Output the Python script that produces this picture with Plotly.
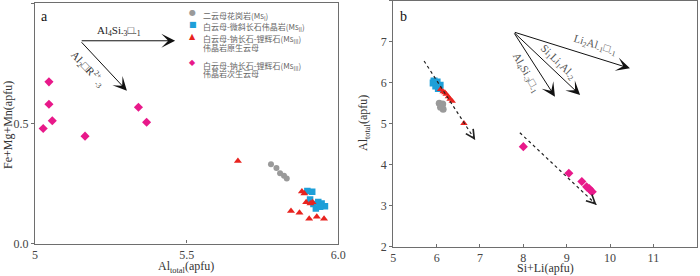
import plotly.graph_objects as go

# ---------------- Panel a data ----------------
a_ms1_x = [5.778, 5.796, 5.808, 5.821, 5.830]
a_ms1_y = [0.330, 0.314, 0.292, 0.282, 0.271]
a_ms2_x = [5.898, 5.914, 5.907, 5.934, 5.945, 5.926, 5.956, 5.918, 5.940]
a_ms2_y = [0.219, 0.215, 0.183, 0.173, 0.167, 0.146, 0.155, 0.164, 0.153]
a_ms3p_x = [5.669, 5.880, 5.888, 5.894, 5.908, 5.915, 5.844, 5.872, 5.904, 5.929, 5.953]
a_ms3p_y = [0.343, 0.217, 0.208, 0.172, 0.167, 0.172, 0.135, 0.128, 0.103, 0.111, 0.103]
a_ms3s_x = [5.046, 5.046, 5.057, 5.027, 5.165, 5.341, 5.368]
a_ms3s_y = [0.673, 0.580, 0.511, 0.479, 0.447, 0.567, 0.505]

# ---------------- Panel b data ----------------
b_ms1_x = [6.06, 6.14, 6.09, 6.15, 6.12]
b_ms1_y = [5.50, 5.48, 5.40, 5.35, 5.43]
b_ms2_x = [5.94, 6.01, 5.98, 6.08, 6.04, 5.92]
b_ms2_y = [6.04, 6.02, 5.92, 5.94, 5.86, 5.99]
b_ms3p_x = [6.09, 6.15, 6.22, 6.27, 6.31, 6.36, 6.19, 6.63]
b_ms3p_y = [5.84, 5.78, 5.72, 5.66, 5.60, 5.55, 5.76, 5.01]
b_ms3s_x = [8.00, 9.05, 9.35, 9.46, 9.52, 9.55, 9.59]
b_ms3s_y = [4.44, 3.79, 3.59, 3.46, 3.42, 3.37, 3.34]

# vectors
a_vec_origin = (5.149, 0.844)
a_vec_ends = [(5.462, 0.844), (5.303, 0.636)]
b_vec_origin = (7.77, 7.24)
b_vec_ends = [(8.73, 5.66), (9.31, 5.70), (10.46, 6.35)]
b_trend_start = [(5.71, 6.53), (7.92, 4.78)]
b_trend_end = [(6.89, 4.60), (9.69, 3.02)]

# ticks
a_xtickvals = [5, 5.5, 6.0]
a_xticktext = ["5", "5.5", "6.0"]
a_ytickvals = [0, 0.5, 1.0]
a_yticktext = ["0.0", "0.5", "1.0"]
b_xtickvals = [5, 6, 7, 8, 9, 10, 11, 12]
b_ytickvals = [2, 3, 4, 5, 6, 7, 8]

legend_names = ["二云母花岗岩(Ms<sub>I</sub>)",
                "白云母-微斜长石伟晶岩(Ms<sub>II</sub>)",
                "白云母-钠长石-锂辉石(Ms<sub>III</sub>)",
                "伟晶岩原生云母",
                "白云母-钠长石-锂辉石(Ms<sub>III</sub>)",
                "伟晶岩次生云母"]

C_GRAY = "#9a9a9a"
C_BLUE = "#1e9fd8"
C_RED = "#e8231f"
C_PINK = "#e8198a"

SERIF = "Liberation Serif"
CJK = "Noto Sans CJK SC"

fig = go.Figure()

def add(x, y, color, symbol, size, xa, ya):
    fig.add_trace(go.Scatter(x=x, y=y, mode="markers", xaxis=xa, yaxis=ya,
                             showlegend=False,
                             marker=dict(color=color, symbol=symbol, size=size,
                                         line=dict(width=0))))

add(a_ms1_x, a_ms1_y, C_GRAY, "circle", 6, "x", "y")
add(a_ms2_x, a_ms2_y, C_BLUE, "square", 6.5, "x", "y")
add(a_ms3p_x, a_ms3p_y, C_RED, "triangle-up", 7, "x", "y")
add(a_ms3s_x, a_ms3s_y, C_PINK, "diamond", 7, "x", "y")

add(b_ms1_x, b_ms1_y, C_GRAY, "circle", 7, "x2", "y2")
add(b_ms2_x, b_ms2_y, C_BLUE, "square", 7, "x2", "y2")
add(b_ms3p_x, b_ms3p_y, C_RED, "triangle-up", 6.5, "x2", "y2")
add(b_ms3s_x, b_ms3s_y, C_PINK, "diamond", 7, "x2", "y2")

W, H = 700, 276
def px(xp): return xp / W
def py(yp): return 1 - yp / H

axis_common = dict(showgrid=False, zeroline=False, showline=True, mirror=True,
                   automargin=False,
                   linecolor="#6e6e6e", linewidth=1.3,
                   tickfont=dict(family=SERIF, size=12, color="#444"),
                   tickcolor="#6e6e6e", ticklen=3, tickwidth=1)

fig.update_layout(
    width=W, height=H, margin=dict(l=0, r=0, t=0, b=0, autoexpand=False),
    paper_bgcolor="white", plot_bgcolor="white", showlegend=False,
    xaxis=dict(domain=[px(35), px(338.3)], range=[5, 6], anchor="y",
               tickvals=a_xtickvals, ticktext=a_xticktext, ticks="inside",
               **axis_common),
    yaxis=dict(domain=[py(243.5), py(3.3)], range=[0, 1.0], anchor="x",
               tickvals=a_ytickvals, ticktext=a_yticktext, ticks="outside",
               **axis_common),
    xaxis2=dict(domain=[px(393.3), px(696.7)], range=[5, 12], anchor="y2",
                tickvals=b_xtickvals, ticks="inside",
                **axis_common),
    yaxis2=dict(domain=[py(246.7), py(0.7)], range=[2, 8], anchor="x2",
                tickvals=b_ytickvals, ticks="outside",
                **axis_common),
)

ann = []
def txt(xp, yp, text, font, angle=0, xanchor="center", yanchor="middle"):
    ann.append(dict(xref="paper", yref="paper", x=px(xp), y=py(yp), text=text,
                    showarrow=False, font=font, textangle=angle,
                    xanchor=xanchor, yanchor=yanchor))

tfont = dict(family=SERIF, size=12, color="#333")
# axis titles
txt(186, 267, "Al<sub>total</sub>(apfu)", tfont)
txt(8, 125, "Fe+Mg+Mn(apfu)", tfont, angle=-90)
txt(545, 267.5, "Si+Li(apfu)", tfont)
txt(364, 123, "Al<sub>total</sub>(apfu)", tfont, angle=-90)

# panel letters
txt(45, 16, "a", dict(family=SERIF, size=14, color="#111"))
txt(403, 16, "b", dict(family=SERIF, size=14, color="#111"))

# panel a vectors
for (ex, ey) in a_vec_ends:
    ann.append(dict(xref="x", yref="y", axref="x", ayref="y",
                    x=ex, y=ey, ax=a_vec_origin[0], ay=a_vec_origin[1],
                    showarrow=True, arrowhead=3, arrowsize=2.3, arrowwidth=1,
                    arrowcolor="#111", text=""))
txt(119, 31, "Al<sub>4</sub>Si<sub>-3</sub>□<sub>-1</sub>", dict(family=SERIF, size=11, color="#222"))
txt(88, 69, "Al<sub>2</sub>□R<sup>2+</sup><sub>-3</sub>", dict(family=SERIF, size=11, color="#333"), angle=47)

# panel b vectors
for (ex, ey) in b_vec_ends:
    ann.append(dict(xref="x2", yref="y2", axref="x2", ayref="y2",
                    x=ex, y=ey, ax=b_vec_origin[0], ay=b_vec_origin[1],
                    showarrow=True, arrowhead=3, arrowsize=2.3, arrowwidth=1,
                    arrowcolor="#111", text=""))
bl = dict(family=SERIF, size=11, color="#555")
txt(595, 45, "Li<sub>2</sub>Al<sub>-1</sub>□<sub>-1</sub>", bl, angle=17)
txt(558, 62, "Si<sub>1</sub>Li<sub>1</sub>Al<sub>-2</sub>", bl, angle=44)
txt(526, 73, "Al<sub>4</sub>Si<sub>-3</sub>□<sub>-1</sub>", bl, angle=60)

# dotted trend arrows in b
shapes = []
for (s, e) in zip(b_trend_start, b_trend_end):
    shapes.append(dict(type="line", xref="x2", yref="y2", x0=s[0], y0=s[1], x1=e[0], y1=e[1],
                       line=dict(color="#222", width=1.2, dash="dot")))
    dx, dy = e[0] - s[0], e[1] - s[1]
    ann.append(dict(xref="x2", yref="y2", axref="x2", ayref="y2",
                    x=e[0], y=e[1], ax=e[0] - dx * 0.06, ay=e[1] - dy * 0.06,
                    showarrow=True, arrowhead=5, arrowsize=1.7, arrowwidth=1,
                    arrowcolor="#222", text=""))

# legend (manual)
glyphs = [("●", C_GRAY, 12.7), ("■", C_BLUE, 24.5), ("▲", C_RED, 36.5), ("◆", C_PINK, 62.5)]
for g, col, yy in glyphs:
    txt(193, yy, g, dict(family="DejaVu Sans", size=8, color=col))
line_y = [12.7, 24.5, 36.5, 45.3, 62.5, 71.3]
for name, yy in zip(legend_names, line_y):
    txt(201, yy - 5, name, dict(family=CJK, size=8, color="#666"), xanchor="left", yanchor="top")

fig.update_layout(annotations=ann, shapes=shapes)
fig.write_html("out.html", config={"displayModeBar": False},
               post_script="document.body.style.margin='0';document.body.style.padding='0';"
                           "document.documentElement.style.overflow='hidden';")
